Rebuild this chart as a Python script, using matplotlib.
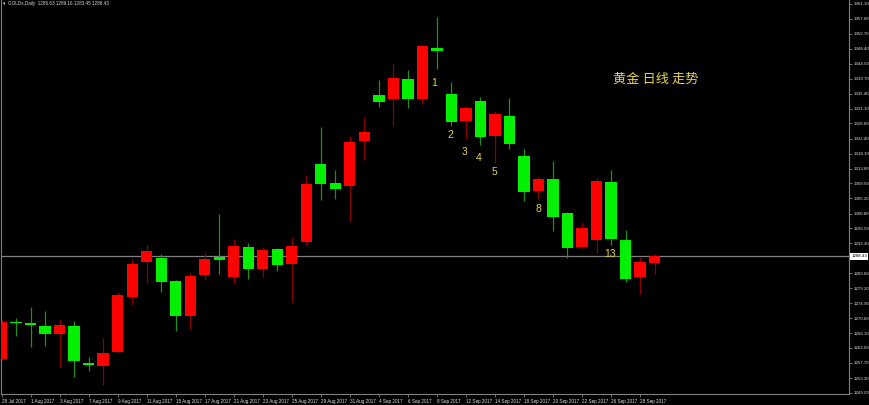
import matplotlib
matplotlib.use("Agg")
import matplotlib.pyplot as plt
import matplotlib.transforms as mtransforms

# daily OHLC, 28 Jul 2017 .. 29 Sep 2017
opens = [1258.7, 1269.6, 1269.1, 1268.3, 1266.0, 1268.3, 1257.5, 1256.8, 1260.9, 1276.8,
         1286.7, 1288.1, 1281.4, 1271.1, 1283.1, 1288.4, 1282.4, 1291.1, 1284.7, 1290.5,
         1286.2, 1292.7, 1315.1, 1309.5, 1308.7, 1321.8, 1334.9, 1334.0, 1339.6, 1333.9,
         1348.6, 1335.3, 1327.6, 1333.2, 1323.3, 1329.0, 1317.3, 1307.3, 1310.9, 1301.0,
         1291.2, 1293.2, 1310.0, 1293.1, 1282.6, 1286.63]
highs = [1270.1, 1270.6, 1273.7, 1272.7, 1270.4, 1269.9, 1259.5, 1264.8, 1278.2, 1287.6,
         1291.7, 1289.1, 1281.6, 1283.6, 1289.8, 1300.6, 1293.5, 1292.4, 1291.1, 1291.0,
         1294.0, 1311.8, 1325.8, 1313.3, 1323.3, 1328.6, 1339.4, 1344.2, 1342.3, 1349.5,
         1357.5, 1338.8, 1331.9, 1334.5, 1330.5, 1334.3, 1319.4, 1311.4, 1315.9, 1301.3,
         1298.5, 1311.3, 1313.4, 1296.1, 1288.4, 1289.16]
lows = [1258.5, 1265.5, 1262.4, 1262.6, 1256.6, 1253.7, 1255.4, 1251.3, 1260.5, 1274.4,
        1280.8, 1278.2, 1267.0, 1267.4, 1281.6, 1283.3, 1280.4, 1281.8, 1282.6, 1284.2,
        1275.4, 1291.7, 1304.7, 1305.0, 1298.7, 1316.3, 1331.5, 1326.1, 1331.4, 1332.3,
        1342.5, 1326.1, 1322.3, 1320.6, 1315.3, 1319.4, 1304.4, 1305.0, 1295.8, 1287.9,
        1290.9, 1289.3, 1291.7, 1281.1, 1277.5, 1283.45]
closes = [1269.6, 1269.1, 1268.6, 1266.0, 1268.6, 1258.3, 1257.2, 1260.5, 1277.3, 1286.2,
          1290.1, 1281.1, 1271.2, 1282.9, 1287.6, 1287.4, 1291.5, 1284.7, 1290.4, 1286.0,
          1291.4, 1309.3, 1309.3, 1308.0, 1321.4, 1324.3, 1333.0, 1339.9, 1333.9, 1349.3,
          1347.8, 1327.2, 1331.2, 1322.8, 1329.5, 1320.8, 1307.0, 1310.8, 1299.7, 1291.0,
          1296.5, 1310.1, 1293.5, 1282.0, 1286.7, 1288.43]

date_labels = ['28 Jul 2017', '1 Aug 2017', '3 Aug 2017', '7 Aug 2017', '9 Aug 2017',
               '11 Aug 2017', '15 Aug 2017', '17 Aug 2017', '21 Aug 2017', '23 Aug 2017',
               '25 Aug 2017', '29 Aug 2017', '31 Aug 2017', '4 Sep 2017', '6 Sep 2017',
               '8 Sep 2017', '12 Sep 2017', '14 Sep 2017', '18 Sep 2017', '20 Sep 2017',
               '22 Sep 2017', '26 Sep 2017', '28 Sep 2017']

price_ticks = [1361.30, 1357.00, 1352.70, 1348.40, 1344.00, 1339.70, 1335.40, 1331.10,
               1326.80, 1322.40, 1318.10, 1313.80, 1309.50, 1305.20, 1300.80, 1296.50,
               1292.20, 1283.60, 1279.20, 1274.90, 1270.60, 1266.30, 1262.00, 1257.70,
               1253.30, 1249.00]

# wave count labels: (bar index, price, text)
count_bars = [29.8, 30.9, 31.9, 32.9, 34.0, 37.0, 41.9]
count_prices = [1338.6, 1323.6, 1318.7, 1316.9, 1312.7, 1302.0, 1289.0]
count_texts = ['1', '2', '3', '4', '5', '8', '13']

UP = '#ff0000'
DOWN = '#00f000'
UP_WICK = '#8a0000'
DOWN_WICK = '#1f8f1f'
GRID = '#808080'
YELLOW = '#e6d24a'

fig = plt.figure(figsize=(8.7, 4.05), dpi=100, facecolor='black')
ax = fig.add_axes([1 / 870, 11 / 405, 848 / 870, 394 / 405], facecolor='black')

xs = list(range(len(opens)))
body_cols = [UP if c >= o else DOWN for o, c in zip(opens, closes)]
wick_cols = [UP_WICK if c >= o else DOWN_WICK for o, c in zip(opens, closes)]
ax.vlines(xs, lows, highs, colors=wick_cols, linewidth=0.9, zorder=2)
bottoms = [min(o, c) for o, c in zip(opens, closes)]
heights = [max(abs(c - o), 0.35) for o, c in zip(opens, closes)]
ax.bar(xs, heights, bottom=bottoms, width=0.78, color=body_cols, linewidth=0, zorder=3)

# current price line and label
last = closes[-1]
ax.axhline(last, color=GRID, linewidth=0.9, zorder=1)
trans = mtransforms.blended_transform_factory(ax.transAxes, ax.transData)
ax.text(1.003, last, f'{last:.2f}', transform=trans, fontsize=3.2, color='black',
        family='Liberation Sans', va='center', ha='left',
        bbox=dict(boxstyle='square,pad=0.25', facecolor='white', edgecolor='none'),
        clip_on=False)

for xb, yp, t in zip(count_bars, count_prices, count_texts):
    ax.text(xb, yp, t, color=YELLOW, fontsize=7.5, family='Liberation Sans',
            ha='center', va='center', zorder=4)

ax.text(45.1, 1339.6, '黄金 日线 走势', color=YELLOW, fontsize=9.5,
        family=['Noto Sans CJK SC', 'DejaVu Sans'], ha='center', va='center')

ax.set_xlim(-0.04, 58.40)
ax.set_ylim(1248.71, 1362.45)

ax.set_xticks(list(range(0, 45, 2)))
ax.set_xticklabels(date_labels, fontsize=3.3, family='Liberation Sans', color='#e0e0e0',
                   ha='left')
ax.tick_params(axis='x', direction='out', length=2.5, width=0.6, color=GRID, pad=0.8)

ax.yaxis.tick_right()
ax.set_yticks(price_ticks)
ax.set_yticklabels([f'{v:.2f}' for v in price_ticks], fontsize=3.2,
                   family='Liberation Sans', color='#e0e0e0')
ax.tick_params(axis='y', direction='out', length=2, width=0.6, color=GRID, pad=1.0)

for side in ['left', 'bottom', 'right']:
    ax.spines[side].set_color(GRID)
    ax.spines[side].set_linewidth(0.8)
ax.spines['top'].set_visible(False)

fig.text(3 / 870, 1 - 3.5 / 405, '\u25be', color='#d8d8d8', fontsize=3.5, va='center')
fig.text(8 / 870, 1 - 3.5 / 405, 'GOLDs,Daily  1286.63 1289.16 1283.45 1288.43',
         color='#d8d8d8', fontsize=3.3, family='Liberation Sans', va='center')

fig.savefig('out.png', dpi=100, facecolor='black')
